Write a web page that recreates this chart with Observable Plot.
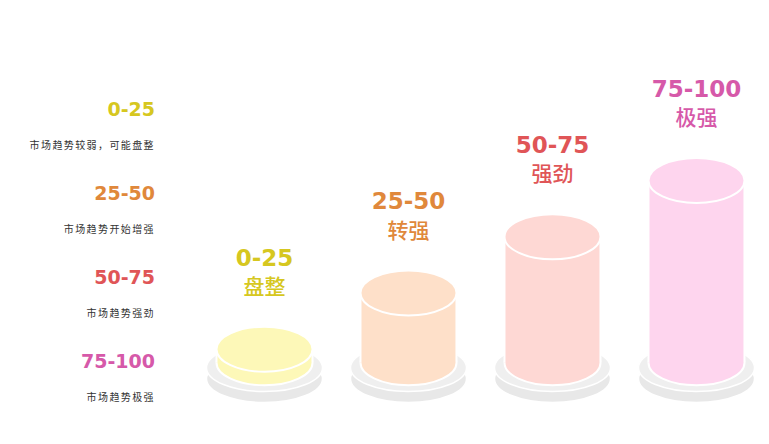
<!DOCTYPE html>
<html>
<head>
<meta charset="utf-8">
<script src="https://cdn.jsdelivr.net/npm/d3@7"></script>
<script src="https://cdn.jsdelivr.net/npm/@observablehq/plot@0.6"></script>
<style>
  html, body { margin: 0; padding: 0; background: #ffffff; }
  #wrap { position: relative; width: 769px; height: 444px; overflow: hidden; background: #ffffff; }
  #legend { position: absolute; left: 0; top: 97px; width: 155px; text-align: right; }
  .item { height: 84px; }
  .num { height: 24px; line-height: 24px; font-size: 19px; font-weight: bold; font-family: "DejaVu Sans", sans-serif; }
  .desc { margin-top: 18px; line-height: 12px; font-size: 10px; letter-spacing: 1.4px; color: #333; font-family: "Noto Sans CJK SC", sans-serif; }
  #chart { position: absolute; left: 0; top: 0; }
</style>
</head>
<body>
<div id="wrap">
  <div id="chart"></div>
  <div id="legend"></div>
</div>
<script>
const categories = ["0-25", "25-50", "50-75", "75-100"];
const values = [25, 50, 75, 100];
const labels = ["盘整", "转强", "强劲", "极强"];
const descriptions = ["市场趋势较弱，可能盘整", "市场趋势开始增强", "市场趋势强劲", "市场趋势极强"];
const fillColors = ["#fdf8b8", "#fee0c9", "#fed8d4", "#fed5ee"];
const textColors = ["#d6c720", "#e0883b", "#e05557", "#d659a9"];
const baseValue = 19;

const data = categories.map((c, i) => ({
  cat: c, value: values[i], label: labels[i], fill: fillColors[i], text: textColors[i]
}));

function ellipseSymbol(ratio) {
  return {
    draw(ctx, size) {
      const rx = Math.sqrt(size / Math.PI), ry = rx * ratio, k = 0.5522847;
      ctx.moveTo(rx, 0);
      ctx.bezierCurveTo(rx, ry * k, rx * k, ry, 0, ry);
      ctx.bezierCurveTo(-rx * k, ry, -rx, ry * k, -rx, 0);
      ctx.bezierCurveTo(-rx, -ry * k, -rx * k, -ry, 0, -ry);
      ctx.bezierCurveTo(rx * k, -ry, rx, -ry * k, rx, 0);
      ctx.closePath();
    }
  };
}
const cylEllipse = ellipseSymbol(0.47);
const plateEllipse = ellipseSymbol(0.41);
const bandwidth = (769 - 191 - 1) / categories.length;
const inset = (bandwidth - 96) / 2;

const plot = Plot.plot({
  width: 769,
  height: 444,
  marginTop: 180,
  marginBottom: 39,
  marginLeft: 191,
  marginRight: 1,
  x: {domain: categories, padding: 0, axis: null},
  y: {domain: [0, 100], axis: null},
  color: {type: "identity"},
  style: {background: "transparent", overflow: "visible"},
  marks: [
    Plot.dot(data, {x: "cat", y: () => baseValue, dy: 16, r: 58, symbol: plateEllipse, fill: "#e8e8e8", stroke: "#ffffff", strokeWidth: 1.5}),
    Plot.dot(data, {x: "cat", y: () => baseValue, dy: 5, r: 58, symbol: plateEllipse, fill: "#efefef", stroke: "#ffffff", strokeWidth: 1.5}),
    Plot.dot(data, {x: "cat", y: () => baseValue, r: 48, symbol: cylEllipse, fill: "fill", stroke: "#ffffff", strokeWidth: 2}),
    Plot.barY(data, {x: "cat", y1: () => baseValue, y2: "value", fill: "fill", insetLeft: inset, insetRight: inset}),
    Plot.ruleX(data, {x: "cat", y1: () => baseValue, y2: "value", dx: -48, stroke: "#ffffff", strokeWidth: 2}),
    Plot.ruleX(data, {x: "cat", y1: () => baseValue, y2: "value", dx: 48, stroke: "#ffffff", strokeWidth: 2}),
    Plot.dot(data, {x: "cat", y: "value", r: 48, symbol: cylEllipse, fill: "fill", stroke: "#ffffff", strokeWidth: 2}),
    Plot.text(data, {x: "cat", y: "value", text: "cat", dy: -91, fill: "text", fontSize: 23, fontWeight: "bold", fontFamily: "'DejaVu Sans', sans-serif"}),
    Plot.text(data, {x: "cat", y: "value", text: "label", dy: -62, fill: "text", fontSize: 21, fontWeight: 500, fontFamily: "'Noto Sans CJK SC', sans-serif"})
  ]
});
document.getElementById("chart").appendChild(plot);

const legend = document.getElementById("legend");
categories.forEach((c, i) => {
  const item = document.createElement("div");
  item.className = "item";
  const num = document.createElement("div");
  num.className = "num";
  num.style.color = textColors[i];
  num.textContent = c;
  const desc = document.createElement("div");
  desc.className = "desc";
  desc.textContent = descriptions[i];
  item.appendChild(num);
  item.appendChild(desc);
  legend.appendChild(item);
});
</script>
</body>
</html>
